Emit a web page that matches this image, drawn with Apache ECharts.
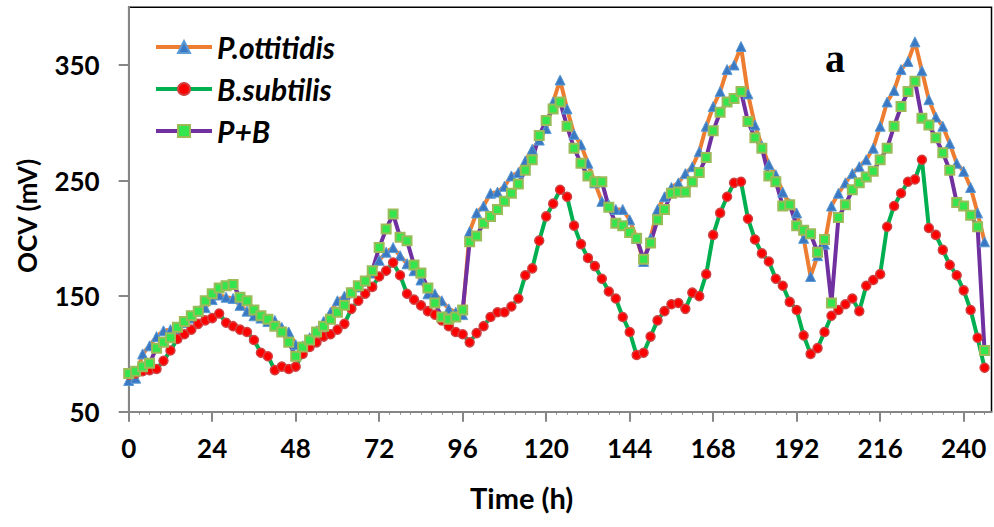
<!DOCTYPE html>
<html>
<head>
<meta charset="utf-8">
<script src="https://cdn.jsdelivr.net/npm/echarts@6/dist/echarts.min.js"></script>
<style>
html,body{margin:0;padding:0;background:#fff;}
#c{width:994px;height:527px;}
</style>
</head>
<body>
<div id="c"></div>
<script>
// ---- data ----
const timeH = [0,2,4,6,8,10,12,14,16,18,20,22,24,26,28,30,32,34,36,38,40,42,44,46,48,50,52,54,56,58,60,62,64,66,68,70,72,74,76,78,80,82,84,86,88,90,92,94,96,98,100,102,104,106,108,110,112,114,116,118,120,122,124,126,128,130,132,134,136,138,140,142,144,146,148,150,152,154,156,158,160,162,164,166,168,170,172,174,176,178,180,182,184,186,188,190,192,194,196,198,200,202,204,206,208,210,212,214,216,218,220,222,224,226,228,230,232,234,236,238,240,242,244,246];
const pOttitidis = [
77,79,100,107,115,120,121,122,127,131,137,140,
147,151,149,148,142,137,133,131,128,129,123,119,
108,107,114,120,128,136,146,150,153,158,163,170,
181,188,192,185,178,172,164,152,152,146,139,136,
134,206,222,228,239,240,245,254,257,267,277,285,
295,318,337,312,290,281,265,248,232,229,225,225,
216,200,180,200,225,236,244,248,256,262,275,297,
314,327,346,350,366,325,298,280,264,255,240,230,
222,200,167,185,195,228,239,248,256,262,268,278,
297,318,328,346,353,370,345,320,305,297,282,265,
258,244,222,197];
const bSubtilis = [
82,83,85,86,87,94,103,113,117,121,126,129,
131,135,127,124,121,119,112,101,98,86,89,87,
89,100,106,110,115,117,121,126,139,146,152,158,
167,172,179,168,152,147,142,137,134,129,124,119,
117,110,118,124,132,136,136,141,148,168,174,198,
219,230,242,236,211,195,183,176,165,154,148,132,
119,99,101,115,129,137,143,144,139,153,150,169,
203,222,236,248,249,217,199,187,180,165,159,145,
138,116,100,105,119,133,138,143,148,137,159,164,
169,210,228,239,249,251,268,209,203,190,177,168,
155,138,114,88];
const pPlusB = [
83,85,89,92,105,110,114,123,128,133,137,146,
152,157,159,160,149,146,138,133,130,124,119,110,
98,106,112,119,124,130,136,142,153,159,163,172,
192,208,221,201,198,177,170,157,144,132,130,132,
138,197,202,213,219,225,232,239,247,259,268,289,
302,312,318,297,278,265,254,249,249,227,213,211,
205,200,182,196,216,225,239,240,240,249,257,270,
293,309,318,321,327,301,287,278,254,249,228,229,
211,207,204,188,199,144,218,229,242,248,253,258,
268,278,297,314,327,336,304,298,287,274,259,231,
228,220,210,103];
const seriesNames = ['P.ottitidis','B.subtilis','P+B'];
const xTicks = [0,24,48,72,96,120,144,168,192,216,240];
const yTicks = [50,150,250,350];

function pairs(vals){ return vals.map((v,i)=>[timeH[i], v]); }

const chart = echarts.init(document.getElementById('c'), null, {renderer:'svg'});
const axisColor = '#868686';
const labelFont = {fontFamily:'Lato, "Open Sans", sans-serif', fontWeight:'bold', fontSize:26, color:'#000'};

chart.setOption({
  animation:false,
  backgroundColor:'#fff',
  grid:{left:128.7, right:2.5, top:7.2, bottom:115.3, show:true, borderColor:'#000', borderWidth:1.5, backgroundColor:'transparent'},
  xAxis:{
    type:'value', min:0, max:248, interval:24,
    axisLine:{show:true, onZero:false, lineStyle:{color:axisColor, width:2}},
    axisTick:{show:true, length:10, lineStyle:{color:axisColor, width:2}, customValues:xTicks},
    minorTick:{show:true, splitNumber:8, length:3, lineStyle:{color:axisColor, width:1}},
    axisLabel:Object.assign({margin:23, customValues:xTicks}, labelFont),
    splitLine:{show:false}
  },
  yAxis:{
    type:'value', min:50, max:400,
    axisLine:{show:true, onZero:false, lineStyle:{color:axisColor, width:2}},
    axisTick:{show:true, length:10, lineStyle:{color:axisColor, width:2}, customValues:yTicks},
    axisLabel:Object.assign({margin:29, customValues:yTicks}, labelFont),
    splitLine:{show:false}
  },
  legend:{
    orient:'vertical', left:149, top:27, itemWidth:56, itemHeight:15, itemGap:12,
    lineStyle:{width:4},
    textStyle:{fontFamily:'Lato, "Open Sans", sans-serif', fontWeight:'bold', fontStyle:'italic', fontSize:30, color:'#000', lineHeight:30},
    data:seriesNames
  },
  series:[
    {name:seriesNames[0], type:'line', data:pairs(pOttitidis), showAllSymbol:true,
     symbol:'triangle', symbolSize:10,
     lineStyle:{color:'#ED7D31', width:4},
     itemStyle:{color:'#3A78C3', borderColor:'#5B9BD5', borderWidth:1}},
    {name:seriesNames[1], type:'line', data:pairs(bSubtilis), showAllSymbol:true,
     symbol:'circle', symbolSize:9,
     lineStyle:{color:'#00B050', width:4},
     itemStyle:{color:'#FF0000', borderColor:'#D04040', borderWidth:1.5}},
    {name:seriesNames[2], type:'line', data:pairs(pPlusB), showAllSymbol:true,
     symbol:'rect', symbolSize:9,
     lineStyle:{color:'#7030A0', width:4},
     itemStyle:{color:'#33E64D', borderColor:'#9BBB59', borderWidth:2}}
  ],
  graphic:[
    {type:'text', left:470, top:483, style:{text:'Time (h)', font:'bold 29px Lato, "Open Sans", sans-serif', fill:'#000'}},
    {type:'text', x:14, y:273, rotation:Math.PI/2, style:{text:'OCV (mV)', font:'bold 26px Lato, "Open Sans", sans-serif', fill:'#000'}},
    {type:'text', left:825, top:38, style:{text:'a', font:'bold 40px "Liberation Serif", "DejaVu Serif", serif', fill:'#000'}}
  ]
});
</script>
</body>
</html>
